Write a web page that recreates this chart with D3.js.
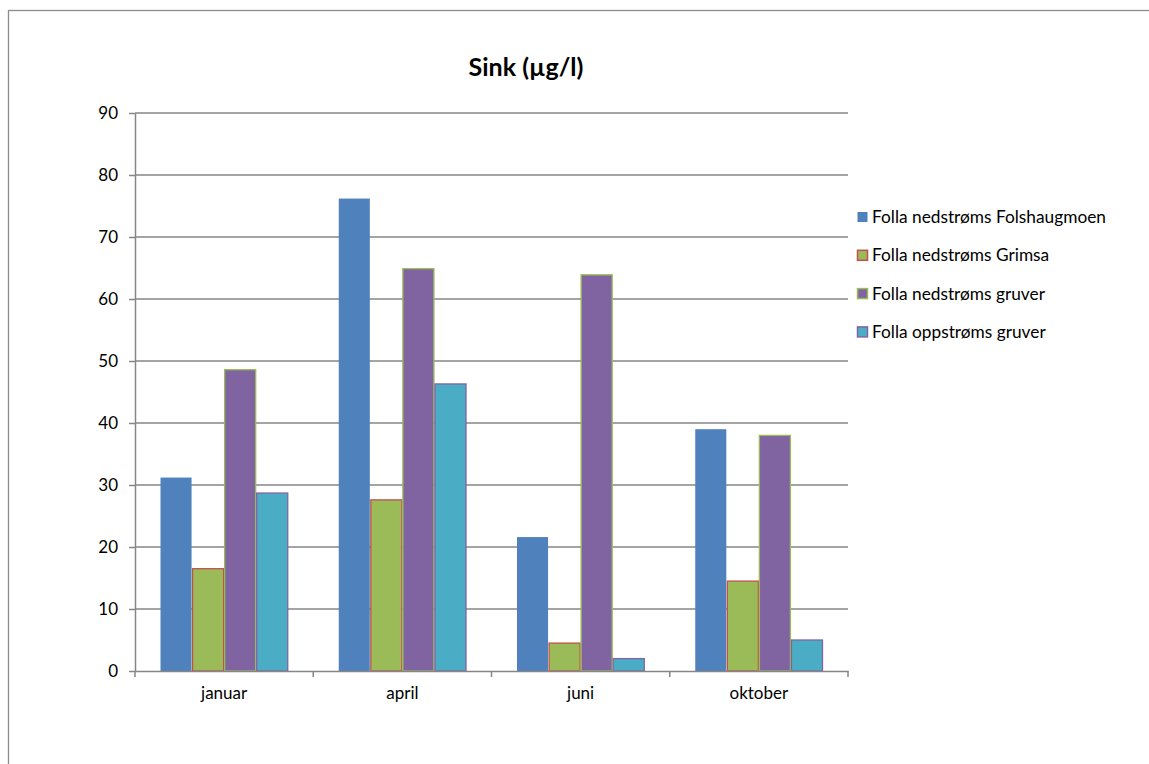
<!DOCTYPE html>
<html>
<head>
<meta charset="utf-8">
<script src="https://cdn.jsdelivr.net/npm/d3@7/dist/d3.min.js"></script>
<style>
  html, body { margin: 0; padding: 0; background: #fff; }
  svg { display: block; }
  text { font-family: Lato, "Open Sans", sans-serif; fill: #000; }
</style>
</head>
<body>
<svg id="chart" width="1149" height="764"></svg>
<script>
// Zinc concentrations (µg/l) per sampling month and station
const months = ["januar", "april", "juni", "oktober"];
const seriesNames = [
  "Folla nedstrøms Folshaugmoen",
  "Folla nedstrøms Grimsa",
  "Folla nedstrøms gruver",
  "Folla oppstrøms gruver"
];
const folshaugmoen = [31.2, 76.2, 21.6, 39.0];
const grimsa       = [16.5, 27.6, 4.5, 14.5];
const gruverNed    = [48.6, 64.9, 63.9, 38.0];
const gruverOpp    = [28.7, 46.3, 2.0, 5.0];
const yTicks = [0, 10, 20, 30, 40, 50, 60, 70, 80, 90];

const seriesValues = [folshaugmoen, grimsa, gruverNed, gruverOpp];
const fills   = ["#4F81BD", "#9BBB59", "#8064A2", "#4BACC6"];
const strokes = ["#4F81BD", "#C0504D", "#9BBB59", "#8064A2"];

const svg = d3.select("#chart");

// outer chart frame
svg.append("rect")
  .attr("x", 8.5).attr("y", 10.5)
  .attr("width", 1200).attr("height", 800)
  .attr("fill", "none").attr("stroke", "#8c8c8c").attr("stroke-width", 1.3);

const plot = { left: 135, right: 848, top: 113, bottom: 671 };

const x = d3.scaleBand().domain(months).range([plot.left, plot.right]).paddingInner(0).paddingOuter(0);
const xInner = d3.scaleBand().domain(d3.range(seriesNames.length))
  .range([0, x.bandwidth()]).paddingOuter(0.78).paddingInner(0);
const y = d3.scaleLinear().domain([0, 90]).range([plot.bottom, plot.top]);

// horizontal gridlines
svg.append("g").selectAll("line").data(yTicks.filter(d => d > 0)).join("line")
  .attr("x1", plot.left).attr("x2", plot.right)
  .attr("y1", d => y(d)).attr("y2", d => y(d))
  .attr("stroke", "#868686").attr("stroke-width", 1.5);

// y axis
const yAxis = svg.append("g").attr("transform", `translate(${plot.left},0)`)
  .call(d3.axisLeft(y).tickValues(yTicks).tickSize(6).tickPadding(11).tickSizeOuter(0));
yAxis.select(".domain").attr("stroke", "#868686").attr("stroke-width", 1.5);
yAxis.selectAll(".tick line").attr("stroke", "#868686").attr("stroke-width", 1.5);
yAxis.selectAll(".tick text").attr("font-size", 17).attr("font-family", "Lato, sans-serif").attr("fill", "#000");

// bars
const groups = svg.append("g").selectAll("g").data(months).join("g")
  .attr("transform", d => `translate(${x(d)},0)`);
groups.selectAll("rect")
  .data((m, i) => seriesValues.map((vals, s) => ({ s, v: vals[i] })))
  .join("rect")
  .attr("x", d => xInner(d.s) + 0.5)
  .attr("width", xInner.bandwidth() - 1)
  .attr("y", d => y(d.v))
  .attr("height", d => y(0) - y(d.v))
  .attr("fill", d => fills[d.s])
  .attr("stroke", d => strokes[d.s])
  .attr("stroke-width", d => d.s === 0 ? 0 : 1.3);

// x axis
const xAxis = svg.append("g").attr("transform", `translate(0,${plot.bottom})`)
  .call(d3.axisBottom(x).tickSize(0).tickPadding(16));
xAxis.select(".domain").attr("stroke", "#868686").attr("stroke-width", 1.5);
xAxis.selectAll(".tick text").attr("font-size", 17).attr("font-family", "Lato, sans-serif").attr("fill", "#000");
svg.append("g").selectAll("line")
  .data(months.map(m => x(m)).concat([plot.right]))
  .join("line")
  .attr("x1", d => d).attr("x2", d => d)
  .attr("y1", plot.bottom).attr("y2", plot.bottom + 6)
  .attr("stroke", "#868686").attr("stroke-width", 1.5);

// title
svg.append("text")
  .attr("x", 526).attr("y", 76)
  .attr("text-anchor", "middle")
  .attr("font-size", 25).attr("font-weight", "bold")
  .text("Sink (µg/l)");

// legend
const legend = svg.append("g").selectAll("g").data(seriesNames).join("g")
  .attr("transform", (d, i) => `translate(857,${217 + i * 38.3})`);
legend.append("rect")
  .attr("x", 0.5).attr("y", -5).attr("width", 10).attr("height", 10)
  .attr("fill", (d, i) => fills[i])
  .attr("stroke", (d, i) => strokes[i]).attr("stroke-width", (d, i) => i === 0 ? 0 : 1.5);
legend.append("text")
  .attr("x", 15).attr("y", 6)
  .attr("font-size", 17.3)
  .text(d => d);
</script>
</body>
</html>
